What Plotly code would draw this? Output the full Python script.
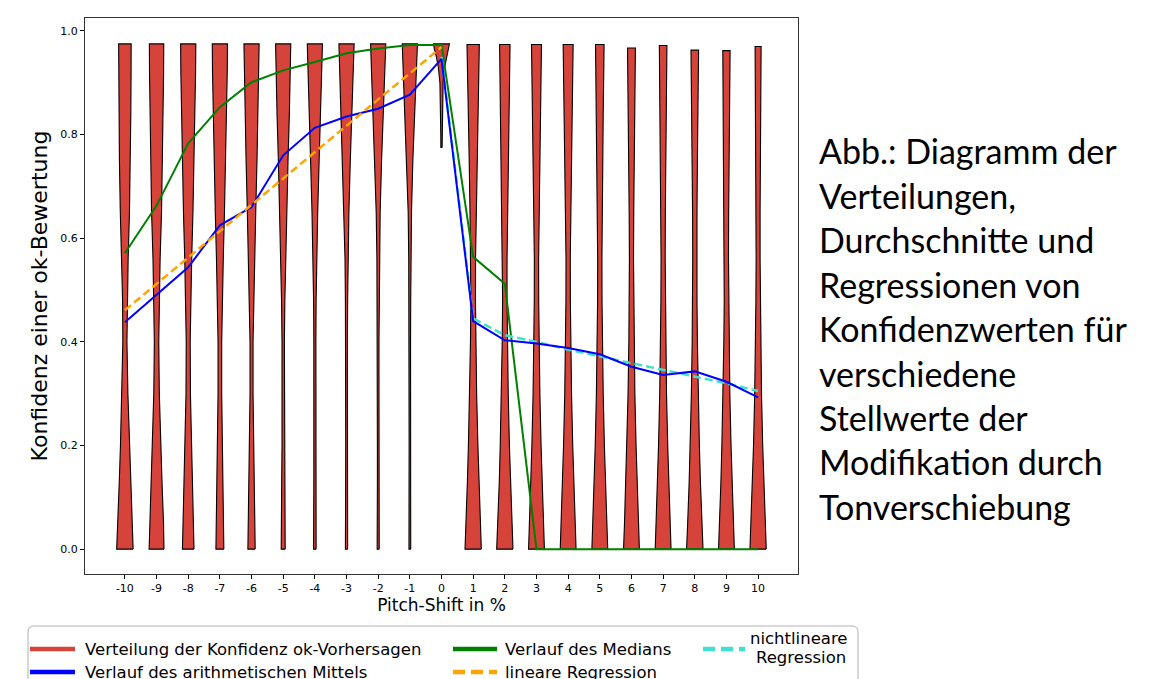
import plotly.graph_objects as go

# ---------------- data ----------------
shifts = list(range(-10, 11))
tick_labels = [str(s) for s in shifts]
y_ticks = [0.0, 0.2, 0.4, 0.6, 0.8, 1.0]
y_tick_labels = ["0.0", "0.2", "0.4", "0.6", "0.8", "1.0"]

median_vals = [0.571, 0.663, 0.783, 0.853, 0.901, 0.924, 0.940, 0.957, 0.966, 0.973,
               0.973, 0.564, 0.512, 0.0, 0.0, 0.0, 0.0, 0.0, 0.0, 0.0, 0.0]
mean_vals = [0.438, 0.491, 0.544, 0.625, 0.660, 0.760, 0.813, 0.835, 0.850, 0.877,
             0.946, 0.440, 0.403, 0.397, 0.388, 0.376, 0.352, 0.336, 0.343, 0.323, 0.293]
linreg_x = list(range(-10, 1))
linreg_vals = [0.461, 0.512, 0.563, 0.613, 0.664, 0.715, 0.766, 0.817, 0.868, 0.918, 0.969]
nonlin_x = list(range(0, 11))
nonlin_vals = [0.950, 0.445, 0.413, 0.400, 0.385, 0.372, 0.358, 0.345, 0.332, 0.320, 0.305]

# violin outlines: relative density at confidence levels (last level = top of violin)
violin_levels = [0.0, 0.05, 0.13, 0.2, 0.3, 0.4, 0.48, 0.56, 0.65, 0.75, 0.84, 0.92]
violin_top = {-10: 0.975, -9: 0.975, -8: 0.975, -7: 0.975, -6: 0.975, -5: 0.975,
              -4: 0.975, -3: 0.975, -2: 0.975, -1: 0.975,
              1: 0.974, 2: 0.974, 3: 0.974, 4: 0.974, 5: 0.974, 6: 0.967,
              7: 0.972, 8: 0.963, 9: 0.962, 10: 0.970}
violin_density = {
    -10: [1.04, 0.94, 0.71, 0.56, 0.38, 0.26, 0.29, 0.41, 0.58, 0.69, 0.75, 0.78, 0.79],
    -9:  [0.94, 0.88, 0.69, 0.53, 0.35, 0.28, 0.33, 0.45, 0.63, 0.75, 0.84, 0.89, 0.91],
    -8:  [0.73, 0.65, 0.50, 0.40, 0.28, 0.25, 0.33, 0.44, 0.60, 0.74, 0.85, 0.93, 0.96],
    -7:  [0.50, 0.45, 0.38, 0.31, 0.23, 0.23, 0.31, 0.43, 0.58, 0.73, 0.85, 0.93, 0.96],
    -6:  [0.46, 0.41, 0.35, 0.28, 0.19, 0.19, 0.28, 0.38, 0.53, 0.69, 0.83, 0.91, 0.96],
    -5:  [0.25, 0.23, 0.19, 0.15, 0.13, 0.15, 0.21, 0.31, 0.45, 0.61, 0.78, 0.90, 0.96],
    -4:  [0.16, 0.15, 0.13, 0.11, 0.10, 0.13, 0.16, 0.24, 0.36, 0.54, 0.73, 0.88, 0.96],
    -3:  [0.14, 0.13, 0.11, 0.10, 0.10, 0.11, 0.14, 0.19, 0.30, 0.48, 0.69, 0.86, 0.96],
    -2:  [0.13, 0.11, 0.10, 0.10, 0.10, 0.10, 0.13, 0.16, 0.25, 0.43, 0.66, 0.85, 0.96],
    -1:  [0.11, 0.10, 0.10, 0.09, 0.09, 0.09, 0.11, 0.14, 0.21, 0.38, 0.61, 0.83, 0.96],
    1:   [1.03, 0.90, 0.73, 0.60, 0.44, 0.34, 0.29, 0.30, 0.40, 0.50, 0.60, 0.70, 0.78],
    2:   [1.03, 0.90, 0.70, 0.58, 0.43, 0.33, 0.28, 0.28, 0.35, 0.44, 0.53, 0.61, 0.66],
    3:   [1.00, 0.88, 0.70, 0.58, 0.43, 0.33, 0.28, 0.27, 0.33, 0.40, 0.49, 0.58, 0.63],
    4:   [1.00, 0.88, 0.70, 0.58, 0.43, 0.33, 0.28, 0.27, 0.33, 0.40, 0.49, 0.58, 0.63],
    5:   [1.00, 0.88, 0.70, 0.58, 0.43, 0.33, 0.28, 0.27, 0.30, 0.36, 0.43, 0.50, 0.54],
    6:   [1.00, 0.88, 0.70, 0.58, 0.43, 0.33, 0.28, 0.26, 0.29, 0.34, 0.40, 0.46, 0.50],
    7:   [1.00, 0.88, 0.70, 0.58, 0.43, 0.33, 0.28, 0.26, 0.28, 0.33, 0.38, 0.44, 0.48],
    8:   [1.04, 0.90, 0.71, 0.58, 0.43, 0.33, 0.28, 0.26, 0.28, 0.33, 0.38, 0.44, 0.48],
    9:   [1.00, 0.88, 0.70, 0.58, 0.43, 0.33, 0.28, 0.26, 0.28, 0.33, 0.38, 0.44, 0.46],
    10:  [1.03, 0.90, 0.71, 0.58, 0.43, 0.33, 0.28, 0.25, 0.25, 0.29, 0.33, 0.36, 0.38],
}
zero_levels = [0.775, 0.80, 0.85, 0.90, 0.93, 0.95, 0.965, 0.975]
zero_density = [0.08, 0.09, 0.11, 0.20, 0.40, 0.65, 0.90, 1.00]

caption_lines = ["Abb.: Diagramm der", "Verteilungen,", "Durchschnitte und",
                 "Regressionen von", "Konfidenzwerten für", "verschiedene",
                 "Stellwerte der", "Modifikation durch", "Tonverschiebung"]

# ---------------- styling ----------------
OFF = 8                      # page body margin of the exported html
W, H = 1157 - OFF, 679 - OFF
PL, PR, PT, PB = 85, 798, 18, 574   # plot area in window pixels
VIOLIN_HALF = 0.25
RED = "#d6433a"
FONT = "DejaVu Sans"

def px(x):
    return (x - PL) / (PR - PL)

def py(y):
    return (PB - y) / (PB - PT)

fig = go.Figure()

for s in shifts:
    if s == 0:
        lv, d = zero_levels, zero_density
    else:
        lv, d = violin_levels + [violin_top[s]], violin_density[s]
    xs = [s + VIOLIN_HALF * v for v in d] + [s - VIOLIN_HALF * v for v in reversed(d)]
    ys = lv + lv[::-1]
    xs.append(xs[0]); ys.append(ys[0])
    fig.add_trace(go.Scatter(x=xs, y=ys, mode="lines", fill="toself", fillcolor=RED,
                             line=dict(color="black", width=1.1), hoverinfo="skip",
                             showlegend=False))

fig.add_trace(go.Scatter(x=shifts, y=median_vals, mode="lines",
                         line=dict(color="green", width=2), showlegend=False))
fig.add_trace(go.Scatter(x=nonlin_x, y=nonlin_vals, mode="lines",
                         line=dict(color="turquoise", width=2.5, dash="8px,4px"), showlegend=False))
fig.add_trace(go.Scatter(x=shifts, y=mean_vals, mode="lines",
                         line=dict(color="blue", width=2), showlegend=False))
fig.add_trace(go.Scatter(x=linreg_x, y=linreg_vals, mode="lines",
                         line=dict(color="orange", width=2.5, dash="8px,4px"), showlegend=False))

shapes = []
annotations = []

# legend box (drawn by hand, cut at the bottom edge like the reference)
r = 6
bx0, bx1, by0 = 28, 858, 626
shapes.append(dict(type="path", xref="paper", yref="paper",
                   path=(f"M {px(bx0)} {py(720)} L {px(bx0)} {py(by0 + r)} "
                         f"Q {px(bx0)} {py(by0)} {px(bx0 + r)} {py(by0)} "
                         f"L {px(bx1 - r)} {py(by0)} Q {px(bx1)} {py(by0)} {px(bx1)} {py(by0 + r)} "
                         f"L {px(bx1)} {py(720)} Z"),
                   line=dict(color="#cccccc", width=1.5), fillcolor="white", layer="above"))

legend_items = [
    (30, 75, 649, RED, "solid", "Verteilung der Konfidenz ok-Vorhersagen", 83),
    (30, 75, 672, "blue", "solid", "Verlauf des arithmetischen Mittels", 83),
    (453, 497, 649, "green", "solid", "Verlauf des Medians", 503),
    (453, 497, 672, "orange", "12px,6px", "lineare Regression", 503),
    (703, 745, 649, "turquoise", "12px,6px", None, None),
]
for xa, xb, yy, col, dash, label, tx in legend_items:
    shapes.append(dict(type="line", xref="paper", yref="paper",
                       x0=px(xa), x1=px(xb), y0=py(yy), y1=py(yy),
                       line=dict(color=col, width=4.5, dash=dash), layer="above"))
    if label:
        annotations.append(dict(xref="paper", yref="paper", x=px(tx), y=py(yy),
                                xanchor="left", yanchor="middle", showarrow=False,
                                text=label, font=dict(family=FONT, size=16.5, color="black")))
annotations.append(dict(xref="paper", yref="paper", x=px(799), y=py(638),
                        xanchor="center", yanchor="middle", showarrow=False,
                        text="nichtlineare", font=dict(family=FONT, size=16.5, color="black")))
annotations.append(dict(xref="paper", yref="paper", x=px(801), y=py(657),
                        xanchor="center", yanchor="middle", showarrow=False,
                        text="Regression", font=dict(family=FONT, size=16.5, color="black")))

# caption on the right
for i, line in enumerate(caption_lines):
    annotations.append(dict(xref="paper", yref="paper", x=px(817), y=py(151 + i * 44.4),
                            xanchor="left", yanchor="middle", showarrow=False, text=line,
                            font=dict(family="Lato", size=34, color="black")))

fig.update_layout(
    width=W, height=H,
    margin=dict(l=PL - OFF, r=W - (PR - OFF), t=PT - OFF, b=H - (PB - OFF)),
    paper_bgcolor="white", plot_bgcolor="white",
    shapes=shapes, annotations=annotations,
    xaxis=dict(range=[-11.26, 11.26], tickmode="array", tickvals=shifts, ticktext=tick_labels,
               ticks="outside", ticklen=4, tickwidth=1, tickcolor="black",
               showgrid=False, zeroline=False, showline=True, mirror=True,
               linecolor="#333333", linewidth=1.3,
               tickfont=dict(family=FONT, size=11, color="black"),
               title=dict(text="Pitch-Shift in %", font=dict(family=FONT, size=17, color="black"),
                          standoff=4)),
    yaxis=dict(range=[-0.048, 1.025], tickmode="array", tickvals=y_ticks, ticktext=y_tick_labels,
               ticks="outside", ticklen=4, tickwidth=1, tickcolor="black",
               showgrid=False, zeroline=False, showline=True, mirror=True,
               linecolor="#333333", linewidth=1.3,
               tickfont=dict(family=FONT, size=11, color="black"),
               title=dict(text="Konfidenz einer ok-Bewertung",
                          font=dict(family=FONT, size=22, color="black"), standoff=6)),
)

fig.write_html("out.html")
